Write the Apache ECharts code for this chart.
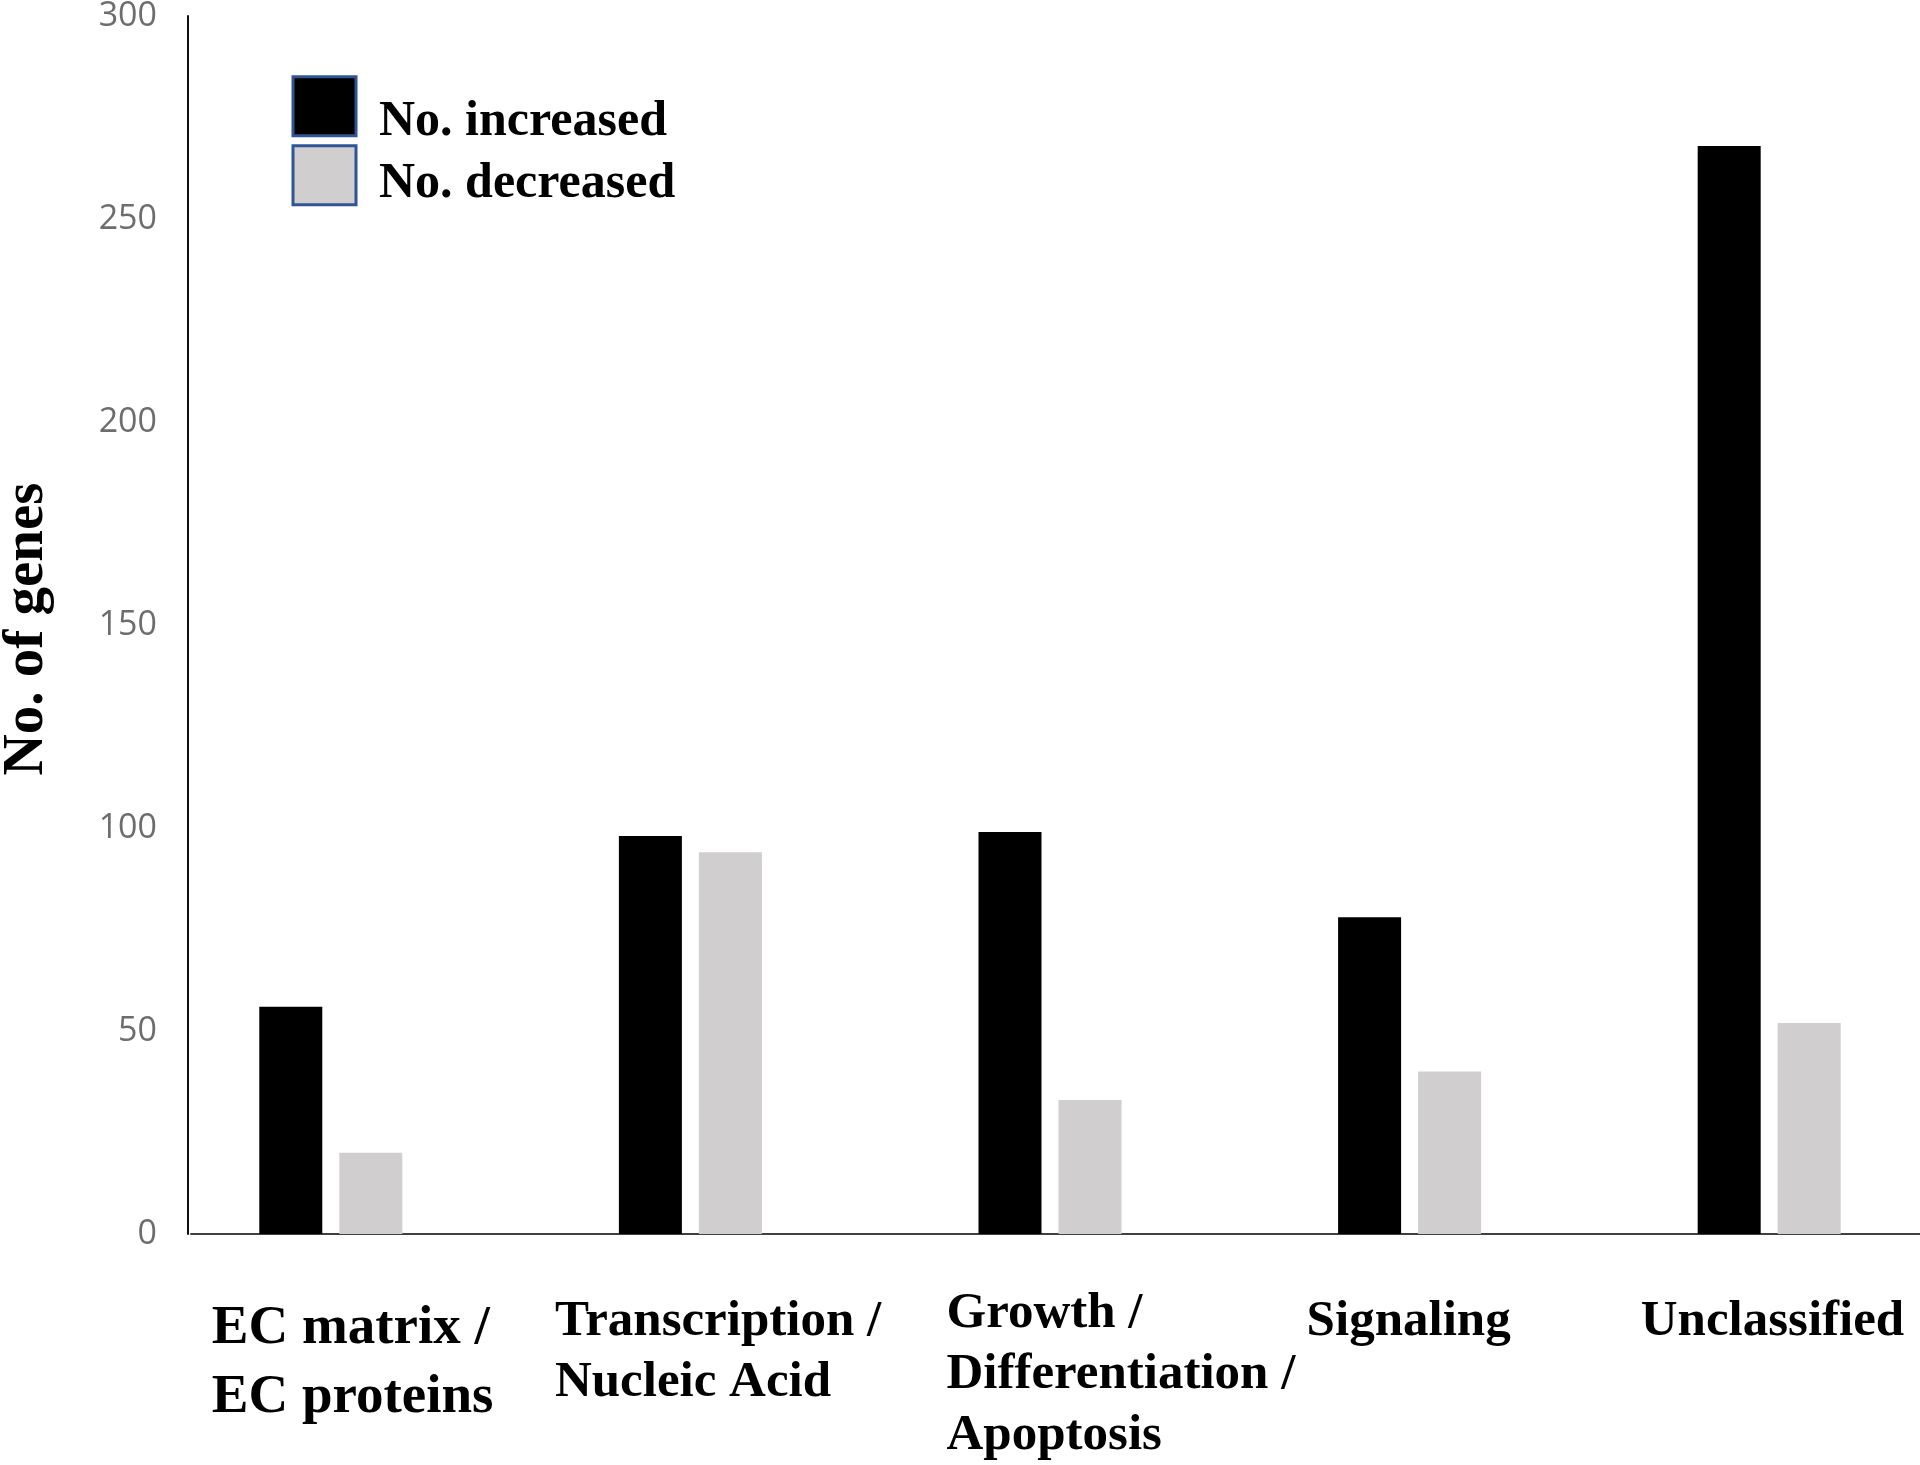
<!DOCTYPE html>
<html>
<head>
<meta charset="utf-8">
<script src="https://cdn.jsdelivr.net/npm/echarts@6/dist/echarts.min.js"></script>
<style>
html,body{margin:0;padding:0;background:#fff;}
#chart{width:1920px;height:1465px;}
</style>
</head>
<body>
<div id="chart"></div>
<script>
// ---- data ----
var categories = ['EC matrix /\nEC proteins', 'Transcription /\nNucleic Acid', 'Growth /\nDifferentiation /\nApoptosis', 'Signaling', 'Unclassified'];
var increased = [56, 98, 99, 78, 268];
var decreased = [20, 94, 33, 40, 52];
var emptySlot = [null, null, null, null, null]; // third (empty) series slot in the original spreadsheet chart
var seriesNames = ['No. increased', 'No. decreased'];
var yTicks = { min: 0, max: 300, interval: 50 };

// ---- label layout (style only) ----
var labelWidths = [318, 351, 287, 286, 337];
var labelFont = [55, 51, 51, 51, 51];
var labelLine = [69, 61, 61, 61, 61];
var labelSpacer = [16.5, 13.4, 5.4, 13.4, 13.4];
var legendSpacer = [32, 17];
var legendTops = [75.2, 144.2];

var serif = '"Liberation Serif", "Times New Roman", serif';
var rich = {};
for (var i = 0; i < categories.length; i++) {
  rich['c' + i] = { width: labelWidths[i], align: 'left', fontSize: labelFont[i], lineHeight: labelLine[i], fontFamily: serif, fontWeight: 'bold', color: '#000' };
  rich['s' + i] = { width: labelWidths[i], align: 'left', fontSize: 1, lineHeight: labelSpacer[i] };
}

function makeLegend(k) {
  var legendRich = {
    t: { fontFamily: serif, fontWeight: 'bold', fontSize: 50, color: '#000', lineHeight: 27 },
    s: { fontSize: 1, lineHeight: legendSpacer[k] }
  };
  return {
    data: [seriesNames[k]],
    orient: 'vertical',
    left: 291.5,
    top: legendTops[k],
    padding: 0,
    itemWidth: 63,
    itemHeight: 59,
    icon: 'rect',
    selectedMode: false,
    itemStyle: { borderColor: '#2F5597', borderWidth: 3 },
    formatter: function (name) { return '{s| }\n{t|' + name + '}'; },
    textStyle: { fontFamily: serif, fontWeight: 'bold', fontSize: 50, color: '#000', padding: [0, 0, 0, 18], rich: legendRich }
  };
}

var chart = echarts.init(document.getElementById('chart'), null, { renderer: 'canvas' });
chart.setOption({
  animation: false,
  backgroundColor: '#ffffff',
  grid: { left: 191, top: 16, width: 1798, height: 1218, containLabel: false, outerBoundsMode: 'none' },
  legend: [makeLegend(0), makeLegend(1)],
  xAxis: {
    type: 'category',
    data: categories,
    axisLine: { show: true, lineStyle: { color: '#404040', width: 2 } },
    axisTick: { show: false },
    axisLabel: {
      interval: 0,
      margin: 44,
      align: 'center',
      verticalAlign: 'top',
      formatter: function (value, idx) {
        var lines = value.split('\n');
        var out = '{s' + idx + '| }';
        for (var k = 0; k < lines.length; k++) out += '\n{c' + idx + '|' + lines[k] + '}';
        return out;
      },
      rich: rich
    },
    splitLine: { show: false }
  },
  yAxis: {
    type: 'value',
    min: yTicks.min,
    max: yTicks.max,
    interval: yTicks.interval,
    offset: 3,
    name: 'No. of genes',
    nameLocation: 'middle',
    nameRotate: 90,
    nameGap: 132,
    nameTextStyle: { fontFamily: serif, fontWeight: 'bold', fontSize: 57, color: '#000', padding: [0, 8, 0, 0] },
    axisLine: { show: true, lineStyle: { color: '#111111', width: 2 } },
    axisTick: { show: false },
    splitLine: { show: false },
    axisLabel: { margin: 31, padding: [11, 0, 0, 0], fontFamily: '"Open Sans", "Noto Sans", sans-serif', fontSize: 34, color: '#6d6d6d' }
  },
  series: [
    { name: seriesNames[0], type: 'bar', data: increased, barWidth: 63, barGap: '27%', itemStyle: { color: '#000000' } },
    { name: seriesNames[1], type: 'bar', data: decreased, barWidth: 63, barGap: '27%', itemStyle: { color: '#d0cece' } },
    { name: 'empty', type: 'bar', data: emptySlot, barWidth: 63, barGap: '27%', itemStyle: { color: '#ffffff' } }
  ]
});
</script>
</body>
</html>
